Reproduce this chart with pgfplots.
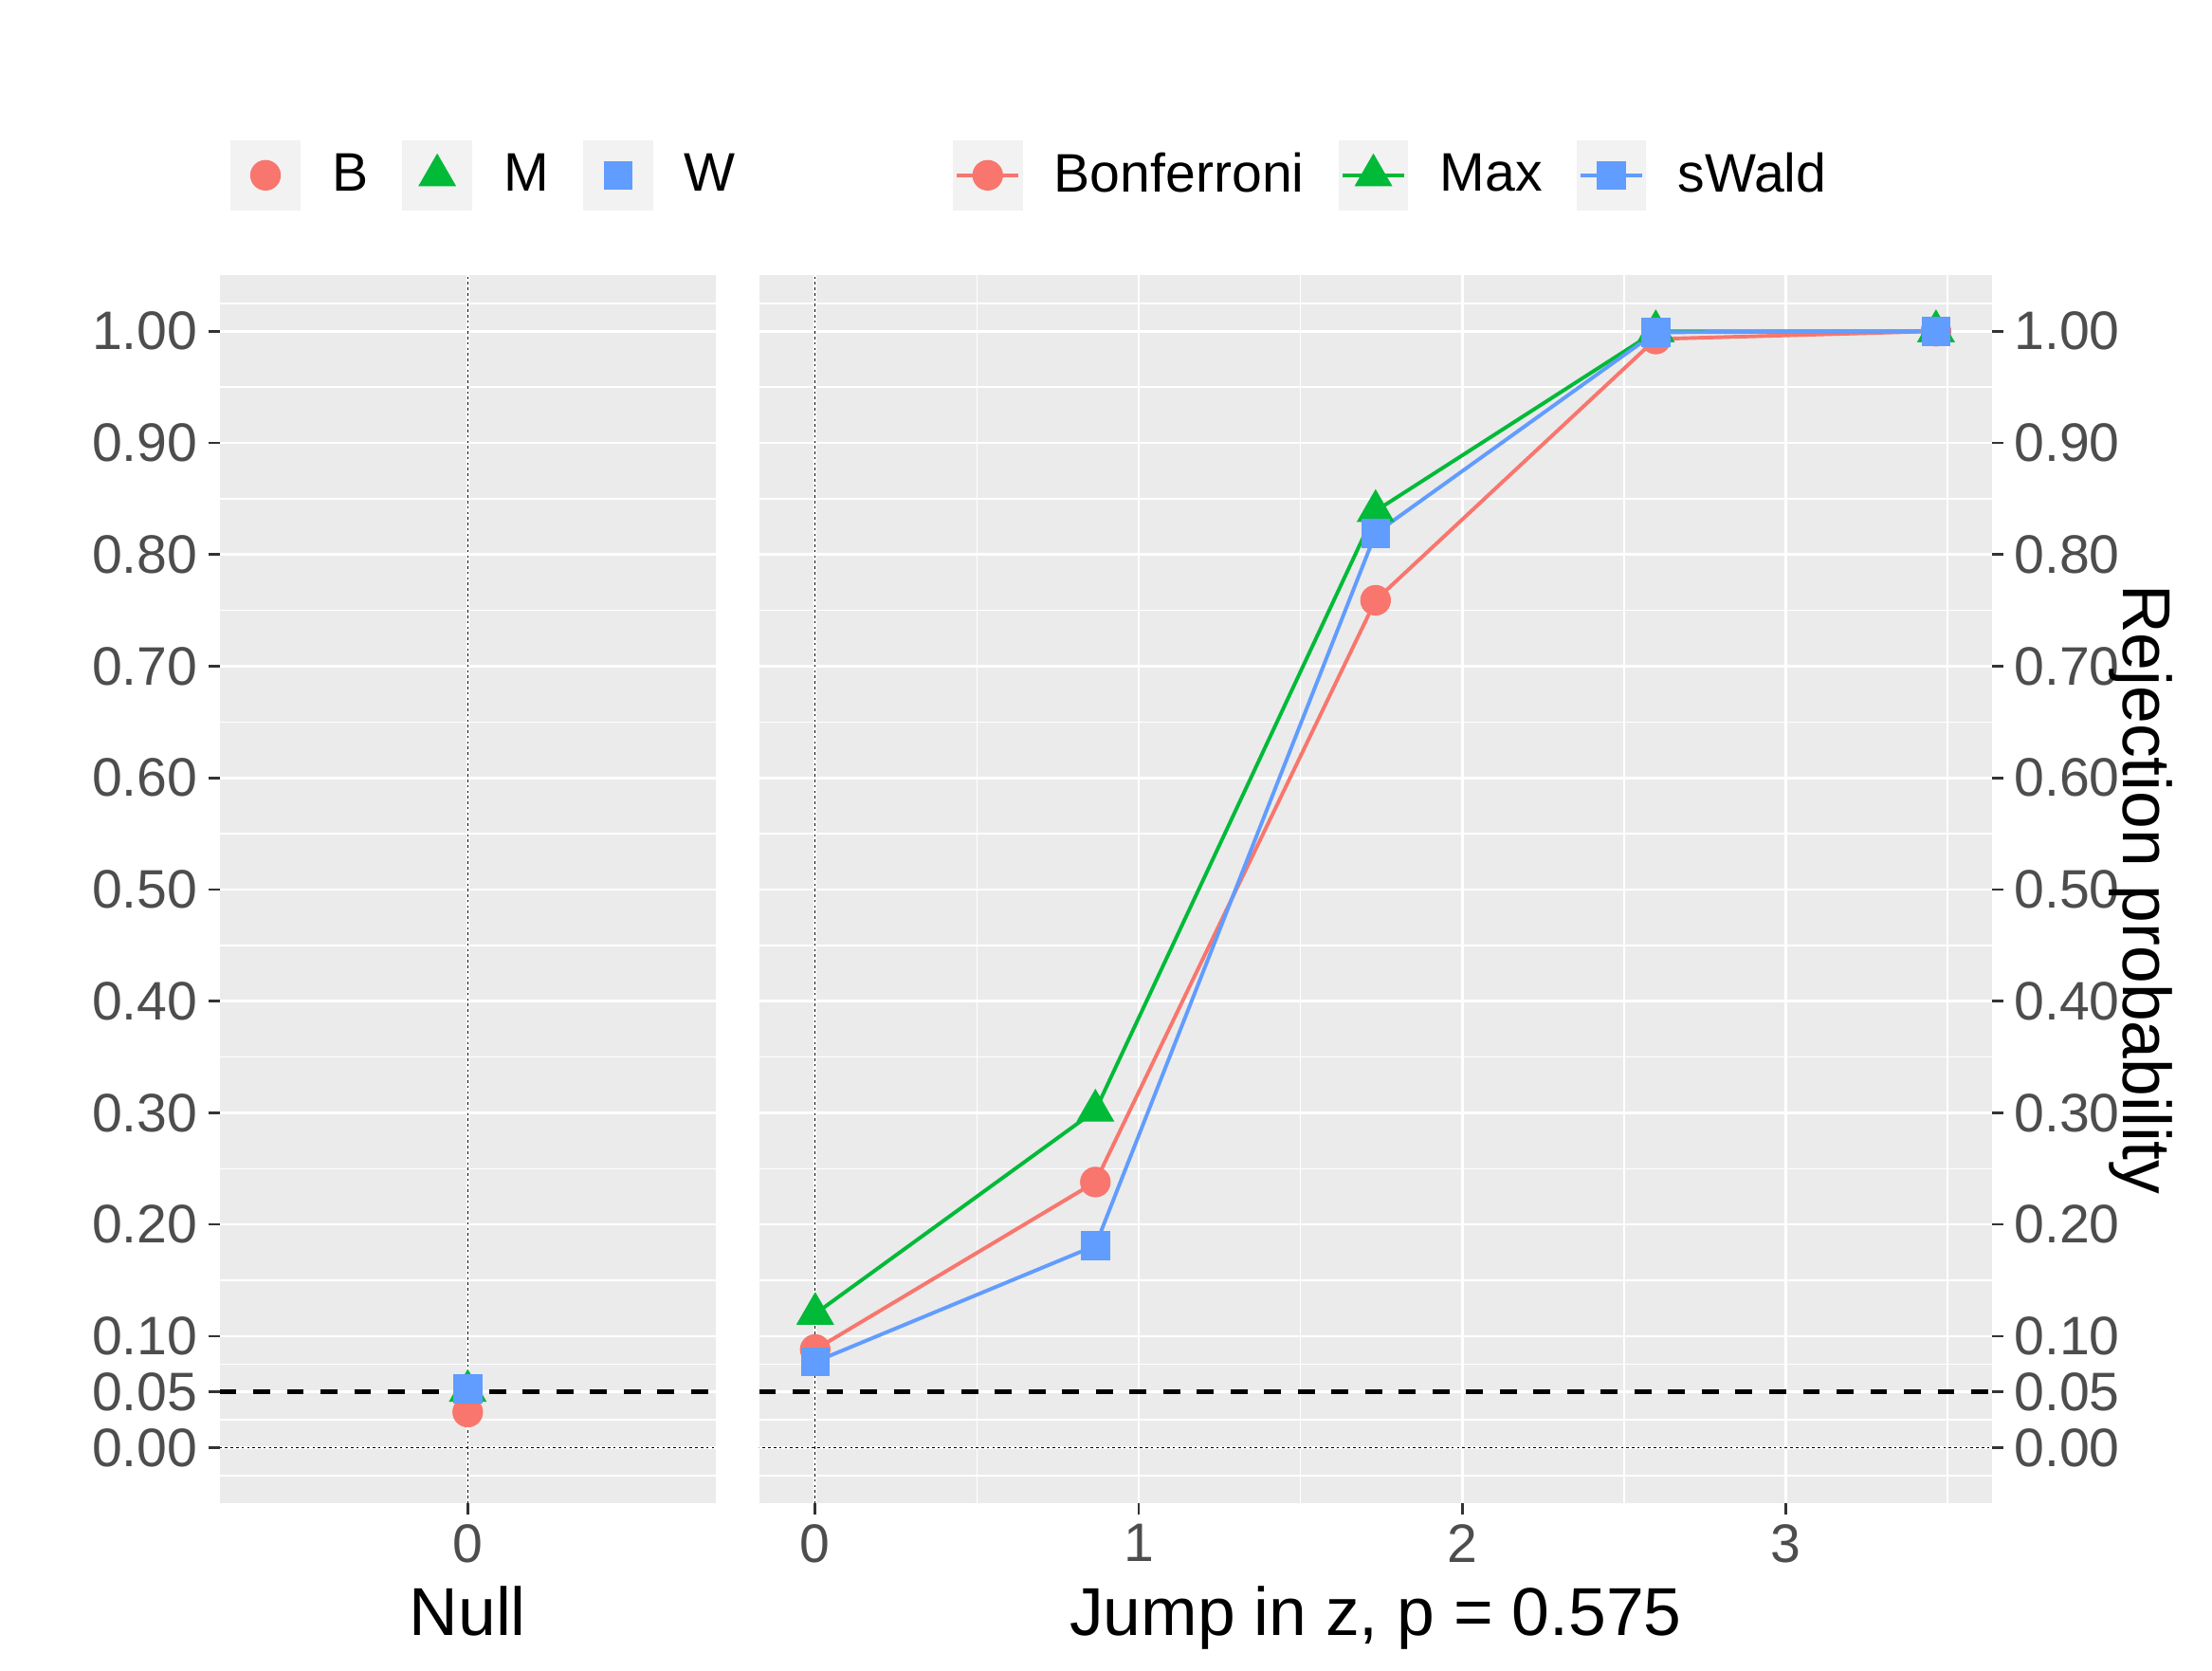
\documentclass[border=0pt]{standalone}
\usepackage{pgfplots}
\pgfplotsset{compat=1.18}
\usepackage{fontspec}
\setmainfont{Liberation Sans}
\definecolor{cB}{HTML}{F8766D}
\definecolor{cM}{HTML}{00BA38}
\definecolor{cW}{HTML}{619CFF}
\definecolor{panel}{HTML}{EBEBEB}
\definecolor{keybg}{HTML}{F2F2F2}
\definecolor{ticktext}{HTML}{4D4D4D}
\definecolor{tickcol}{HTML}{333333}
\newcommand\ticksize{\fontsize{12.4}{14}\selectfont}
\newcommand\titlesize{\fontsize{15.5}{18}\selectfont}
\pgfplotsset{
  panelstyle/.style={
    scale only axis,
    anchor=south west,
    height=280.83pt,
    ymin=-0.05, ymax=1.05,
    axis background/.style={fill=panel},
    axis line style={draw=none},
    ytick={0,0.05,0.1,0.2,0.3,0.4,0.5,0.6,0.7,0.8,0.9,1},
    yticklabels={0.00,0.05,0.10,0.20,0.30,0.40,0.50,0.60,0.70,0.80,0.90,1.00},
    minor ytick={-0.025,0.025,0.075,0.15,0.25,0.35,0.45,0.55,0.65,0.75,0.85,0.95,1.025},
    grid=both,
    major grid style={white, line width=0.58pt},
    minor grid style={white, line width=0.32pt},
    tick align=outside,
    major tick length=2.55pt,
    minor tick length=0pt,
    tick style={tickcol, line width=0.58pt},
    ticklabel style={font=\ticksize, text=ticktext},
    yticklabel style={inner xsep=2.3pt},
    xticklabel style={inner ysep=2.0pt},
    xtick pos=bottom,
    xlabel style={font=\titlesize, at={(axis description cs:0.5,-0.1071)}, anchor=base},
    legend columns=3,
    legend style={draw=none, fill=none, inner sep=0pt, outer sep=0pt, font=\ticksize,
      /tikz/every odd column/.append style={column sep=7.2pt},
      /tikz/every even column/.append style={column sep=7.8pt},
      nodes={inner sep=0pt}},
  },
  pointkey/.style={legend image code/.code={
    \fill[keybg] (0pt,-7.8pt) rectangle (15.6pt,7.8pt);
    \draw[##1] plot coordinates {(7.8pt,0pt)};
  }},
  linekey/.style={legend image code/.code={
    \fill[keybg] (0pt,-7.8pt) rectangle (15.6pt,7.8pt);
    \draw[#1, line width=0.85pt] (0.8pt,0pt) -- (14.8pt,0pt);
    \draw[##1] plot coordinates {(7.8pt,0pt)};
  }},
  dashref/.style={black, line width=1.07pt, dash pattern=on 3.85pt off 3.85pt, forget plot},
  dotref/.style={black, line width=0.3pt, dash pattern=on 0.55pt off 0.7pt, forget plot},
  mB/.style={cB, mark=*, mark size=3.4pt, mark options={solid, line width=0.2pt}},
  mM/.style={cM, mark=triangle*, mark size=4.8pt, mark options={solid, line width=0.2pt}},
  mW/.style={cW, mark=square*, mark size=3.2pt, mark options={solid, line width=0.2pt}},
}
\begin{document}
\begin{tikzpicture}
% Left panel: Null
\begin{axis}[panelstyle,
  at={(50.24pt,38.27pt)},
  width=113.47pt,
  xmin=-1, xmax=1,
  xtick={0}, xticklabels={0},
  ytick pos=left,
  xlabel={Null},
  legend style={at={(axis description cs:0.0219,1.0815)}, anchor=west},
]
\addplot[mB, only marks, pointkey] coordinates {(0,0.032)};
\addlegendentry{B}
\addplot[mM, only marks, pointkey] coordinates {(0,0.051)};
\addlegendentry{M}
\addplot[mW, only marks, pointkey] coordinates {(0,0.053)};
\addlegendentry{W}
\addplot[dashref] coordinates {(-1,0.05) (1,0.05)};
\addplot[dotref] coordinates {(-1,0) (1,0)};
\addplot[dotref] coordinates {(0,-0.05) (0,1.05)};
\end{axis}
% Right panel: Jump
\begin{axis}[panelstyle,
  at={(173.62pt,38.27pt)},
  width=281.96pt,
  xmin=-0.1732, xmax=3.6373,
  xtick={0,1,2,3}, xticklabels={0,1,2,3},
  minor xtick={0.5,1.5,2.5,3.5},
  ytick pos=right, yticklabel pos=right,
  xlabel={Jump in z, p = 0.575},
  ylabel={Rejection probability},
  ylabel style={font=\titlesize, at={(axis description cs:1.1067,0.5)}, rotate=180, anchor=base},
  legend style={at={(axis description cs:0.157,1.0815)}, anchor=west},
]
\addplot[cB, line width=0.85pt, forget plot] coordinates {(0,0.088) (0.866,0.238) (1.732,0.759) (2.598,0.993) (3.464,1.0)};
\addplot[cM, line width=0.85pt, forget plot] coordinates {(0,0.120) (0.866,0.302) (1.732,0.839) (2.598,1.0) (3.464,1.0)};
\addplot[cW, line width=0.85pt, forget plot] coordinates {(0,0.077) (0.866,0.181) (1.732,0.819) (2.598,0.999) (3.464,1.0)};
\addplot[mB, only marks, linekey=cB] coordinates {(0,0.088) (0.866,0.238) (1.732,0.759) (2.598,0.993) (3.464,1.0)};
\addlegendentry{Bonferroni}
\addplot[mM, only marks, linekey=cM] coordinates {(0,0.120) (0.866,0.302) (1.732,0.839) (2.598,1.0) (3.464,1.0)};
\addlegendentry{Max}
\addplot[mW, only marks, linekey=cW] coordinates {(0,0.077) (0.866,0.181) (1.732,0.819) (2.598,0.999) (3.464,1.0)};
\addlegendentry{sWald}
\addplot[dashref] coordinates {(-0.1732,0.05) (4,0.05)};
\addplot[dotref] coordinates {(-0.5,0) (4,0)};
\addplot[dotref] coordinates {(0,-0.05) (0,1.05)};
\end{axis}
\pgfresetboundingbox
\path[use as bounding box] (0,0) rectangle (505.89pt,382.07pt);
\end{tikzpicture}
\end{document}
